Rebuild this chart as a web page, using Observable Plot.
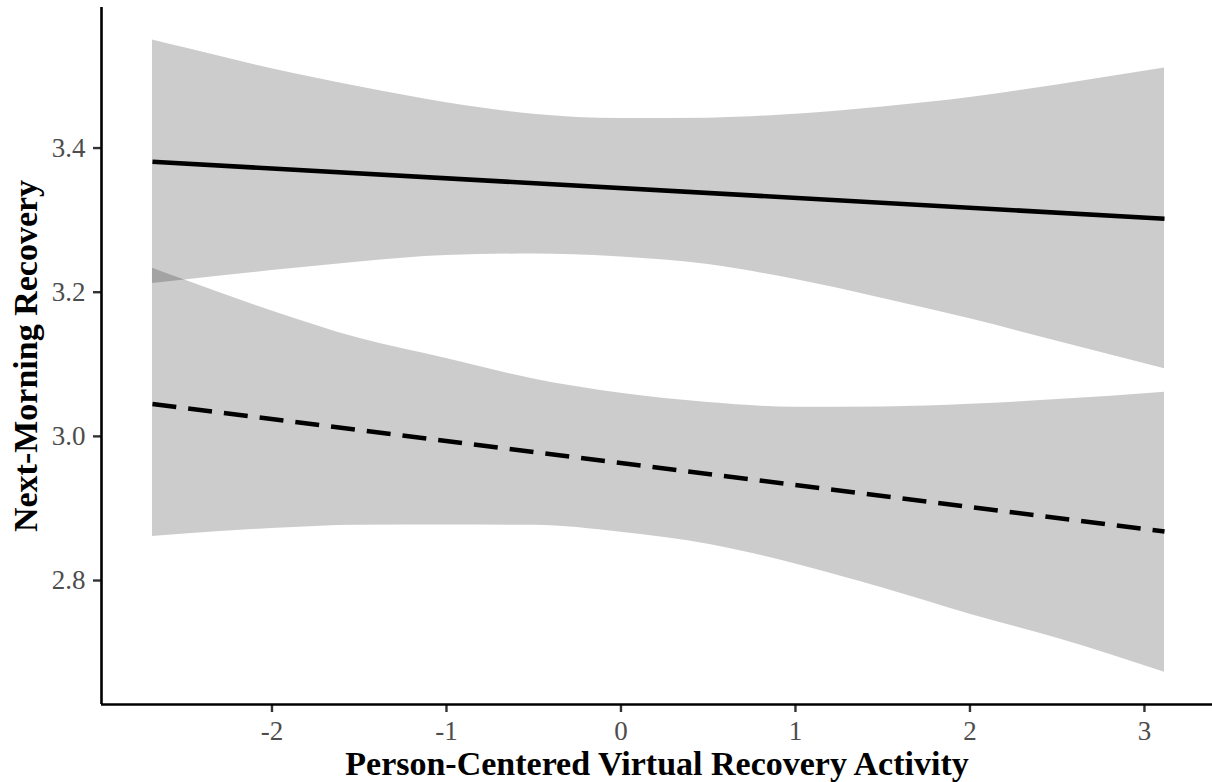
<!DOCTYPE html>
<html>
<head>
<meta charset="utf-8">
<script src="https://cdn.jsdelivr.net/npm/d3@7"></script>
<script src="https://cdn.jsdelivr.net/npm/@observablehq/plot@0.6"></script>
<style>
  html, body { margin: 0; padding: 0; background: #fff; overflow: hidden; }
  #chart { width: 1212px; height: 782px; }
</style>
</head>
<body>
<div id="chart"></div>
<script>
// ---- Data ----
const xLabel = "Person-Centered Virtual Recovery Activity";
const yLabel = "Next-Morning Recovery";

const xTicks = [-2, -1, 0, 1, 2, 3];
const yTicks = [2.8, 3.0, 3.2, 3.4];

// x positions at which the confidence bands were read
const activity = [-2.685, -2.5, -2, -1.5, -1, -0.5, 0, 0.5, 1, 1.5, 2, 2.5, 3.115];

// Solid line group: confidence band
const solidUpper = [3.550, 3.539, 3.510, 3.485, 3.463, 3.447, 3.441, 3.4415, 3.447, 3.457, 3.470, 3.4876, 3.511];
const solidLower = [3.212, 3.217, 3.230, 3.242, 3.251, 3.253, 3.249, 3.2384, 3.2175, 3.1914, 3.1632, 3.1319, 3.0938];

// Dashed line group: confidence band
const dashedUpper = [3.2334, 3.217, 3.174, 3.136, 3.108, 3.0795, 3.0597, 3.047, 3.0405, 3.0408, 3.0444, 3.051, 3.0613];
const dashedLower = [2.861, 2.8645, 2.8722, 2.8767, 2.877, 2.8766, 2.867, 2.8505, 2.823, 2.7896, 2.7533, 2.720, 2.6727];

// Fitted lines (end points)
const lineActivity = [-2.685, 3.115];
const solidFit = [3.381, 3.302];
const dashedFit = [3.045, 2.868];

// ---- Build tables ----
const solidBand = activity.map((x, i) => ({x, lo: solidLower[i], hi: solidUpper[i]}));
const dashedBand = activity.map((x, i) => ({x, lo: dashedLower[i], hi: dashedUpper[i]}));
const solidLine = lineActivity.map((x, i) => ({x, y: solidFit[i]}));
const dashedLine = lineActivity.map((x, i) => ({x, y: dashedFit[i]}));

const xDomain = [-2.977, 3.39];
const yDomain = [2.628, 3.595];
const font = "'Liberation Serif', 'Times New Roman', Times, serif";

const chart = Plot.plot({
  width: 1212,
  height: 782,
  marginLeft: 101,
  marginRight: 0,
  marginTop: 7,
  marginBottom: 78,
  style: {fontFamily: font, background: "#fff"},
  x: {domain: xDomain},
  y: {domain: yDomain},
  marks: [
    Plot.areaY(solidBand, {x: "x", y1: "lo", y2: "hi", fill: "#000", fillOpacity: 0.2, curve: "monotone-x"}),
    Plot.areaY(dashedBand, {x: "x", y1: "lo", y2: "hi", fill: "#000", fillOpacity: 0.2, curve: "monotone-x"}),
    Plot.line(solidLine, {x: "x", y: "y", stroke: "#000", strokeWidth: 4.6, strokeLinecap: "butt"}),
    Plot.line(dashedLine, {x: "x", y: "y", stroke: "#000", strokeWidth: 4.6, strokeDasharray: "24,12", strokeLinecap: "butt"}),
    Plot.axisX({ticks: xTicks, tickFormat: d => String(d), tickSize: 8, tickPadding: 8,
      fontSize: 27, stroke: "#333", fill: "#4d4d4d", strokeWidth: 2.4, label: null}),
    Plot.axisY({ticks: yTicks, tickFormat: d3.format(".1f"), tickSize: 8, tickPadding: 8,
      fontSize: 27, stroke: "#333", fill: "#4d4d4d", strokeWidth: 2.4, label: null}),
    Plot.ruleX([xDomain[0]], {stroke: "#000", strokeWidth: 2.6}),
    Plot.ruleY([yDomain[0]], {stroke: "#000", strokeWidth: 2.6}),
    Plot.text([xLabel], {text: d => d, frameAnchor: "bottom", dy: 70, lineAnchor: "bottom",
      textAnchor: "middle", fontSize: 34, fontWeight: "bold", fill: "#000"}),
    Plot.text([yLabel], {text: d => d, frameAnchor: "left", dx: -65, rotate: -90, lineAnchor: "bottom",
      textAnchor: "middle", fontSize: 34, fontWeight: "bold", fill: "#000"})
  ]
});
document.getElementById("chart").appendChild(chart);
</script>
</body>
</html>
